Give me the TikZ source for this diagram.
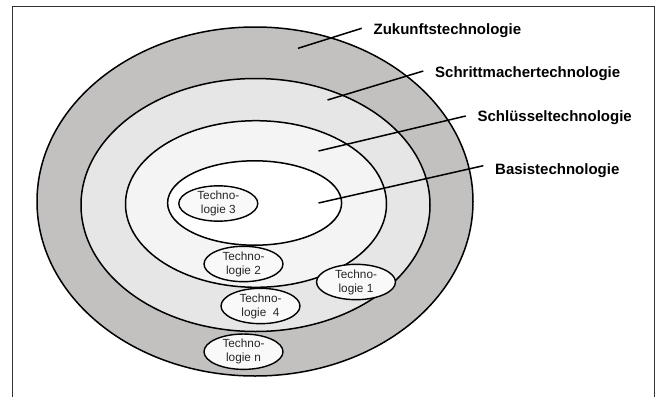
\documentclass[tikz,border=0pt]{standalone}
\usepackage{fontspec}
\setmainfont{Liberation Sans}
\usetikzlibrary{shapes.geometric}
\definecolor{ringA}{HTML}{C3C0C0}
\definecolor{ringB}{HTML}{E6E6E6}
\definecolor{ringC}{HTML}{F4F4F4}
\definecolor{ringD}{HTML}{FFFFFF}
\definecolor{techfill}{HTML}{F9F9F9}
\definecolor{framecol}{HTML}{333333}
\tikzset{
  ringstyle/.style={draw=black, line width=1.5pt},
  techbox/.style={ellipse, draw=black, line width=1.4pt, fill=techfill, inner sep=0pt,
    minimum width=79pt, minimum height=34.5pt, align=center,
    font=\fontsize{11.8}{14}\selectfont, text=black!85},
  labelbox/.style={anchor=west, inner xsep=11.7pt, inner ysep=0pt,
    font=\fontsize{15}{17}\selectfont\bfseries},
  leader/.style={draw=black, line width=1.5pt}
}
\begin{document}
\begin{tikzpicture}[x=1pt,y=-1pt]
\useasboundingbox (0,0) rectangle (659,397);
\fill[white] (0,0) rectangle (659,397);
% frame
\draw[framecol, line width=1.6pt] (12.5,397) -- (12.5,6.5) -- (654.3,6.5) -- (654.3,397);
% rings
\path[ringstyle, fill=ringA] (255,201.5) ellipse [x radius=218, y radius=174.5];
\path[ringstyle, fill=ringB] (255.5,205) ellipse [x radius=174.5, y radius=126.5];
\path[ringstyle, fill=ringC] (256,204) ellipse [x radius=130.5, y radius=83.3];
\path[ringstyle, fill=ringD] (254.6,203) ellipse [x radius=87, y radius=42.2];
% technology ellipses
\node[techbox] (t3) at (218.3,203.5) {Techno-\\logie 3};
\node[techbox] (t2) at (243.5,264) {Techno-\\logie 2};
\node[techbox] (t1) at (356,282) {Techno-\\logie 1};
\node[techbox] (t4) at (260.5,306) {Techno-\\logie~~4};
\node[techbox] (tn) at (243.5,351.7) {Techno-\\logie n};
% labels
\node[labelbox] (zk) at (361.7,31) {Zukunftstechnologie};
\node[labelbox] (sm) at (423.3,74) {Schrittmachertechnologie};
\node[labelbox] (sl) at (465.7,117.3) {Schlüsseltechnologie};
\node[labelbox] (bs) at (483.3,170.7) {Basistechnologie};
% leader line ends
\coordinate (zkend) at (298,48.3);
\coordinate (smend) at (327.5,100);
\coordinate (slend) at (318.5,151);
\coordinate (bsend) at (318.5,203);
\draw[leader] (zkend) -- ([yshift=2.7pt]zk.west);
\draw[leader] (smend) -- ([yshift=3pt]sm.west);
\draw[leader] (slend) -- ([yshift=1.3pt]sl.west);
\draw[leader] (bsend) -- ([yshift=5pt]bs.west);
\end{tikzpicture}
\end{document}
